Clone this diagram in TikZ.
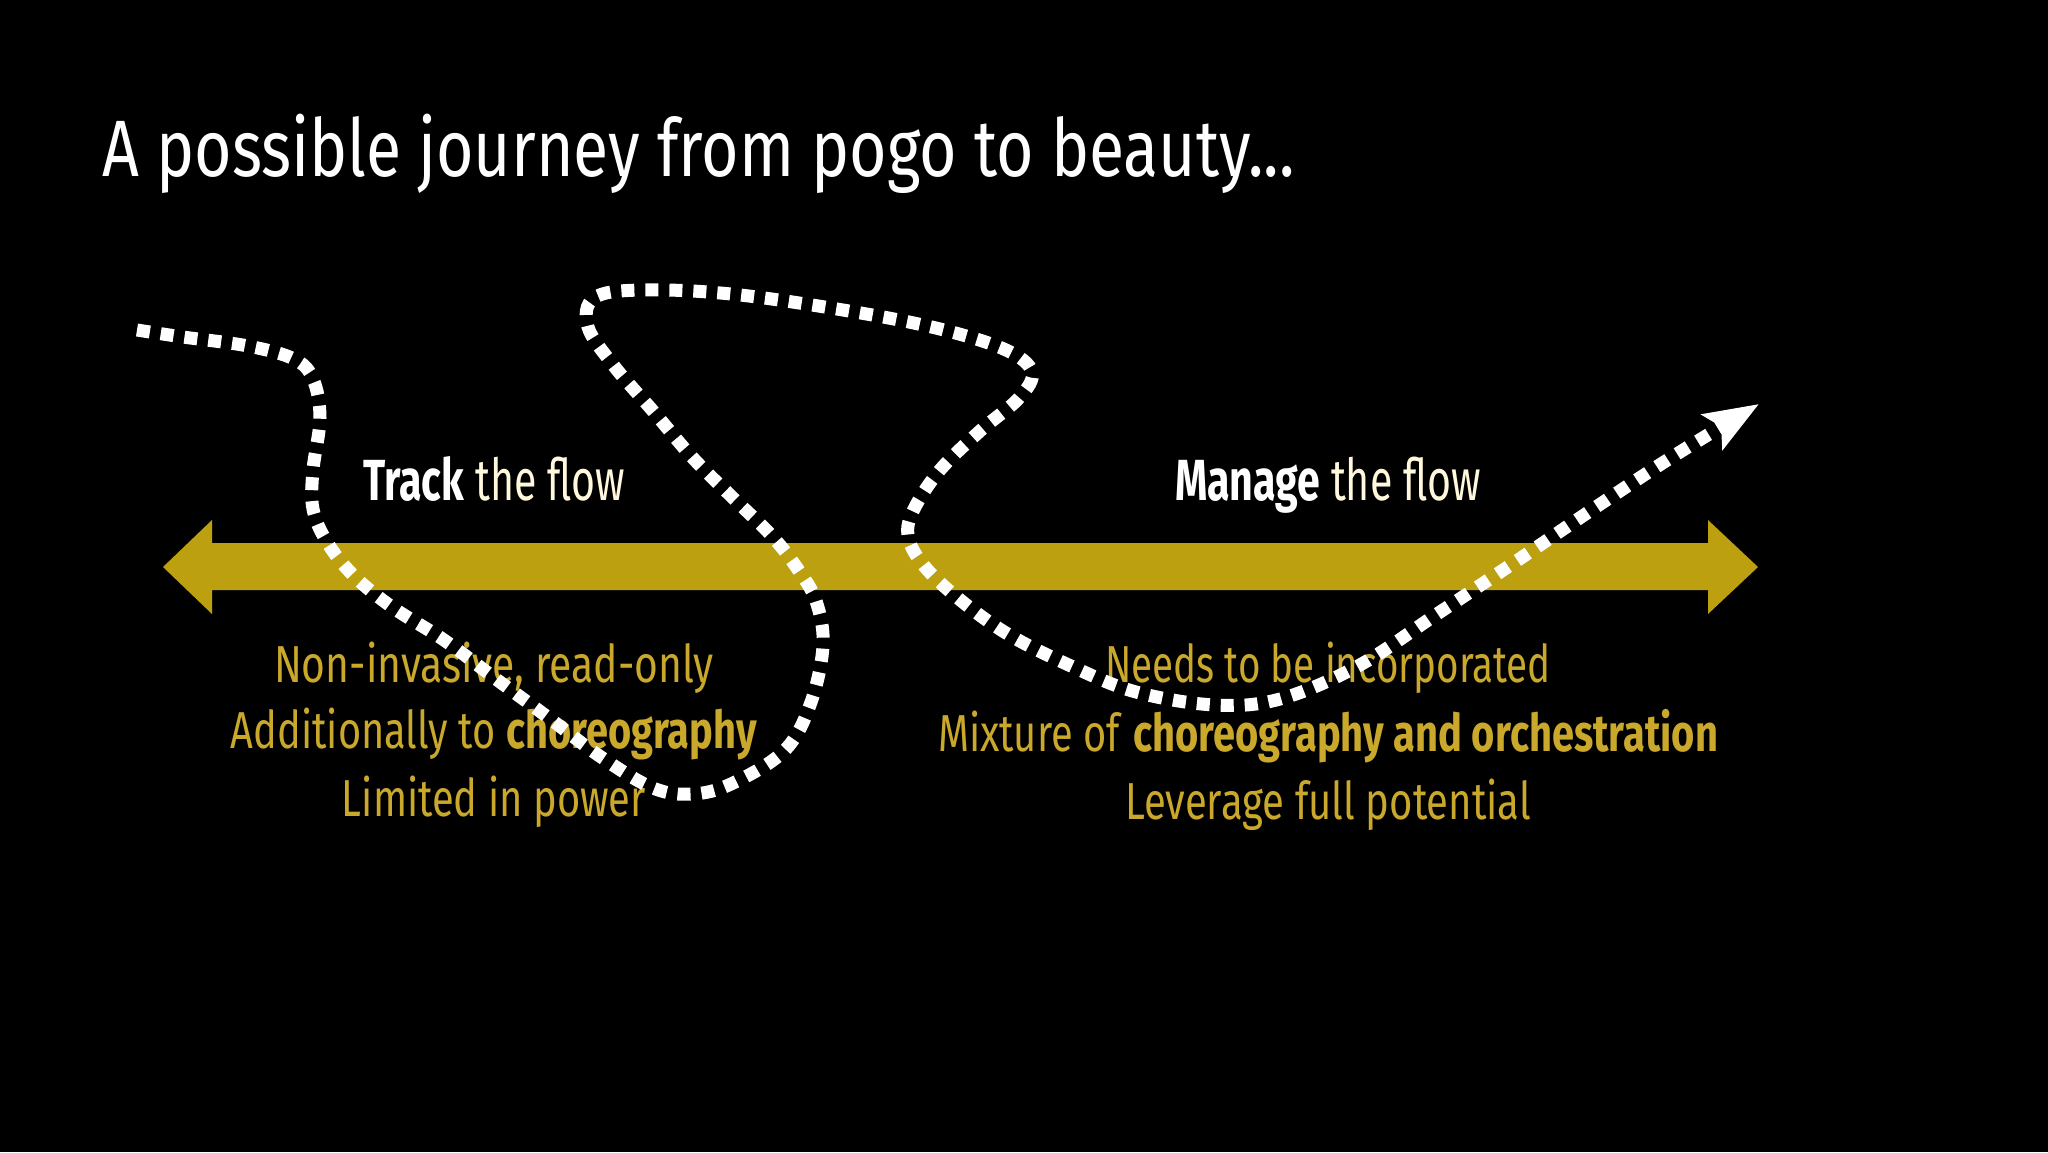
\documentclass[tikz,border=0pt]{standalone}
\usepackage{fontspec}
\setmainfont{Fira Sans}
\usetikzlibrary{arrows.meta}
\definecolor{gold}{HTML}{BDA010}
\definecolor{goldtxt}{HTML}{C9A82C}
\definecolor{cream}{HTML}{FFF8DC}
\newcommand\hfit[2]{\resizebox{#1}{\height}{#2}}
\begin{document}
\begin{tikzpicture}[x=0.5pt,y=-0.5pt,
  lbl/.style={anchor=base, inner sep=0pt, font=\fontsize{26}{30}\selectfont, text=goldtxt},
  headlbl/.style={anchor=base, inner sep=0pt, font=\fontsize{29}{34}\selectfont, text=white},
  journey/.style={draw=white, line width=6.5pt, dash pattern=on 6.5pt off 5.5pt, -{Stealth[length=27pt,width=20pt,inset=5pt]}}]
\fill[black] (0,0) rectangle (2048,1152);
\node[anchor=base west, inner sep=0pt, text=white, font=\fontsize{40}{48}\selectfont] (title) at (102,176) {\hfit{596pt}{A possible journey from pogo to beauty...}};
\fill[gold] (163,567) -- (212,520) -- (212,543) -- (1708,543) -- (1708,520) -- (1758,567) -- (1708,614) -- (1708,590) -- (212,590) -- (212,614) -- cycle;
\node[headlbl] (track) at (494,500) {\hfit{131pt}{\textbf{Track} \textcolor{cream}{the flow}}};
\node[headlbl] (manage) at (1328,500) {\hfit{153pt}{\textbf{Manage} \textcolor{cream}{the flow}}};
\node[lbl] (l1) at (494,682) {\hfit{220pt}{Non-invasive, read-only}};
\node[lbl] (l2) at (494,748) {\hfit{263pt}{Additionally to \textbf{choreography}}};
\node[lbl] (l3) at (494,816) {\hfit{152pt}{Limited in power}};
\node[lbl] (r1) at (1328,682) {\hfit{223pt}{Needs to be incorporated}};
\node[lbl] (r2) at (1328,751) {\hfit{390pt}{Mixture of \textbf{choreography and orchestration}}};
\node[lbl] (r3) at (1328,819) {\hfit{203pt}{Leverage full potential}};
\draw[journey] plot[smooth, tension=0.6] coordinates {
 (137,330) (183,337) (248,346) (294,359) (313,379) (320,418) (313,470) (313,509)
 (327,542) (353,575) (392,607) (444,640) (496,679) (549,718) (601,757) (653,788)
 (692,794) (731,784) (784,751) (810,705) (823,646) (816,601) (797,568) (771,535)
 (731,496) (692,457) (653,411) (614,366) (588,327) (594,298) (640,290) (731,294)
 (849,311) (940,329) (1006,350) (1032,372) (1019,398) (980,431) (940,470) (914,509)
 (908,535) (921,562) (953,594) (1006,633) (1071,666) (1136,692) (1215,705) (1280,699)
 (1358,666) (1437,614) (1515,562) (1593,509) (1672,457) (1759,404)};
\end{tikzpicture}
\end{document}
